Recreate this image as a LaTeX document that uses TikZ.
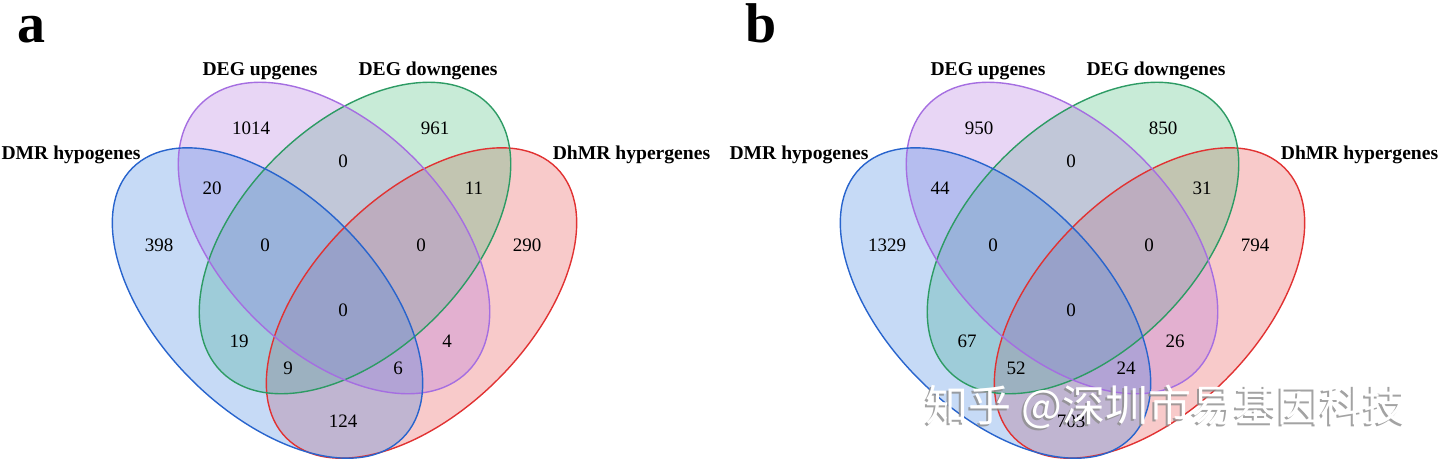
\documentclass[tikz,border=0pt]{standalone}
\usepackage{fontspec}
\setmainfont{Liberation Serif}
\newfontfamily\cjkfont{Noto Sans CJK SC}

\definecolor{hypoblue}{RGB}{65,132,225}
\definecolor{hypoline}{RGB}{40,100,205}
\definecolor{upviolet}{RGB}{178,118,222}
\definecolor{upline}{RGB}{165,110,225}
\definecolor{downgreen}{RGB}{72,188,122}
\definecolor{downline}{RGB}{45,155,100}
\definecolor{hyperred}{RGB}{232,80,80}
\definecolor{hyperline}{RGB}{225,50,50}

\begin{document}
\begin{tikzpicture}[
  x=0.5pt, y=0.5pt,
  every node/.style={inner sep=0pt},
  setfill/.style={fill=#1, fill opacity=0.3},
  setline/.style={draw=#1, line width=0.7pt},
  setlabel/.style={anchor=base, font=\bfseries\fontsize{9.8}{11}\selectfont},
  areanum/.style={font=\fontsize{9.5}{11}\selectfont},
  tag/.style={anchor=base west, font=\bfseries\fontsize{28}{30}\selectfont}
]
\useasboundingbox (0,0) rectangle (1440,-463);

% the four sets, drawn the same way in both panels
\foreach \p/\dx in {a/0, b/728} {
  \begin{scope}[shift={(\dx,0)}]
    \fill[setfill=hyperred, rotate around={45:(421.5,-303)}] (421.5,-303) ellipse [x radius=191, y radius=108];
    \fill[setfill=downgreen, rotate around={45:(355,-238)}] (355,-238) ellipse [x radius=189, y radius=113];
    \fill[setfill=upviolet, rotate around={-45:(334,-238)}] (334,-238) ellipse [x radius=189, y radius=113];
    \fill[setfill=hypoblue, rotate around={-45:(267.5,-303)}] (267.5,-303) ellipse [x radius=191, y radius=108];
    \draw[setline=hyperline, rotate around={45:(421.5,-303)}] (421.5,-303) ellipse [x radius=191, y radius=108];
    \draw[setline=downline, rotate around={45:(355,-238)}] (355,-238) ellipse [x radius=189, y radius=113];
    \draw[setline=upline, rotate around={-45:(334,-238)}] (334,-238) ellipse [x radius=189, y radius=113];
    \draw[setline=hypoline, rotate around={-45:(267.5,-303)}] (267.5,-303) ellipse [x radius=191, y radius=108];

    \node[tag] (\p-tag) at (17,-42) {\p};
    \node[setlabel] (\p-hypo) at (71,-159) {DMR hypogenes};
    \node[setlabel] (\p-up) at (260,-75) {DEG upgenes};
    \node[setlabel] (\p-down) at (428,-75) {DEG downgenes};
    \node[setlabel] (\p-hyper) at (631.5,-159) {DhMR hypergenes};
  \end{scope}
}

% panel a
\node[areanum] (a1) at (251,-128) {1014};
\node[areanum] (a2) at (435,-128) {961};
\node[areanum] (a3) at (343,-161) {0};
\node[areanum] (a4) at (212,-188) {20};
\node[areanum] (a5) at (474,-188) {11};
\node[areanum] (a6) at (159,-245) {398};
\node[areanum] (a7) at (265,-245) {0};
\node[areanum] (a8) at (421,-245) {0};
\node[areanum] (a9) at (527,-245) {290};
\node[areanum] (a10) at (343,-310) {0};
\node[areanum] (a11) at (239,-341) {19};
\node[areanum] (a12) at (447,-341) {4};
\node[areanum] (a13) at (288,-368) {9};
\node[areanum] (a14) at (398,-368) {6};
\node[areanum] (a15) at (343,-421) {124};

% panel b
\begin{scope}[shift={(728,0)}]
\node[areanum] (b1) at (251,-128) {950};
\node[areanum] (b2) at (435,-128) {850};
\node[areanum] (b3) at (343,-161) {0};
\node[areanum] (b4) at (212,-188) {44};
\node[areanum] (b5) at (474,-188) {31};
\node[areanum] (b6) at (159,-245) {1329};
\node[areanum] (b7) at (265,-245) {0};
\node[areanum] (b8) at (421,-245) {0};
\node[areanum] (b9) at (527,-245) {794};
\node[areanum] (b10) at (343,-310) {0};
\node[areanum] (b11) at (239,-341) {67};
\node[areanum] (b12) at (447,-341) {26};
\node[areanum] (b13) at (288,-368) {52};
\node[areanum] (b14) at (398,-368) {24};
\node[areanum] (b15) at (343,-421) {703};
\end{scope}

% watermark
\node[font=\cjkfont\fontsize{21.5}{24}\selectfont, text=black!45, opacity=0.8] (markshadow) at (1164,-409) {知乎 @深圳市易基因科技};
\node[font=\cjkfont\fontsize{21.5}{24}\selectfont, text=white] (mark) at (1166,-407) {知乎 @深圳市易基因科技};
\end{tikzpicture}
\end{document}
